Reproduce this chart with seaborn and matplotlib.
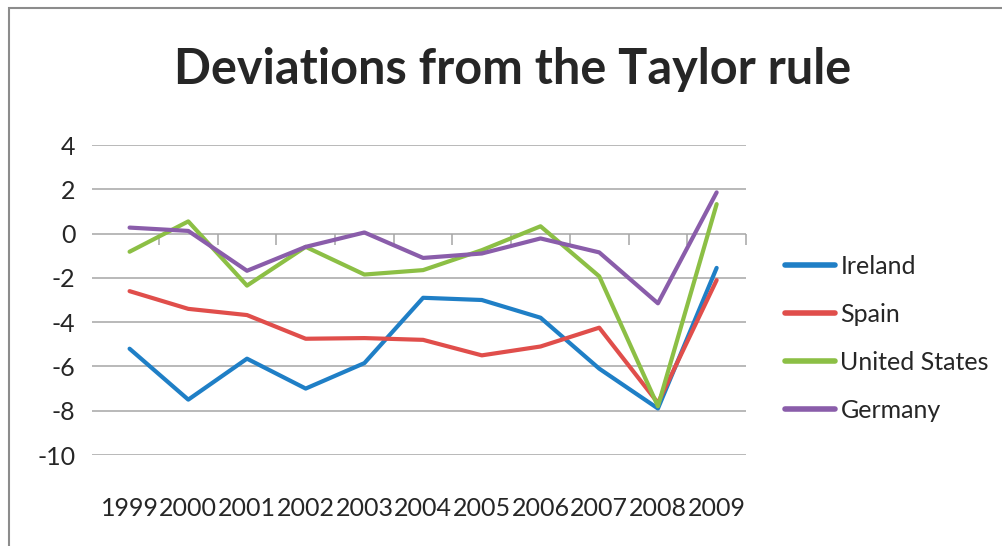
import seaborn as sns
import matplotlib.pyplot as plt
import matplotlib.patches as patches
import pandas as pd
import numpy as np

years = [str(y) for y in range(1999, 2010)]
ireland = [-5.2, -7.5, -5.65, -7.0, -5.85, -2.9, -3.0, -3.8, -6.1, -7.9, -1.55]
spain = [-2.6, -3.4, -3.68, -4.75, -4.72, -4.8, -5.5, -5.1, -4.25, -7.65, -2.1]
united_states = [-0.82, 0.55, -2.35, -0.6, -1.85, -1.65, -0.75, 0.33, -1.93, -7.8, 1.33]
germany = [0.27, 0.12, -1.68, -0.6, 0.05, -1.1, -0.9, -0.22, -0.85, -3.15, 1.86]

series_names = ['Ireland', 'Spain', 'United States', 'Germany']
series_colors = ['#1F7FC6', '#E04E4B', '#8CBF45', '#8A5DAA']

df = pd.DataFrame({
    'Year': years * 4,
    'Value': ireland + spain + united_states + germany,
    'Country': sum([[n] * len(years) for n in series_names], []),
})
df['Pos'] = df['Year'].map({y: i for i, y in enumerate(years)})

sns.set_style("white")
plt.rcParams['font.family'] = ['Lato', 'DejaVu Sans']
plt.rcParams['axes.unicode_minus'] = False

fig = plt.figure(figsize=(10.03, 5.46), dpi=100)
W, H = 1003, 546
ax = fig.add_axes([92 / W, (H - 455) / H, (746 - 92) / W, (455 - 145) / H])

# chart border (Excel style)
fig.patches.append(patches.Rectangle((9 / W, -0.1), 1.2, (H - 8) / H + 0.1,
                                     transform=fig.transFigure, fill=False,
                                     edgecolor='#8c8c8c', linewidth=1.5))

for y in np.arange(-10, 5, 2):
    ax.axhline(y, color='#a6a6a6', linewidth=1.1, zorder=0)

sns.lineplot(data=df, x='Pos', y='Value', hue='Country',
             palette=dict(zip(series_names, series_colors)),
             linewidth=3, ax=ax, sort=False)

ax.set_xlim(-0.64, 10.5)
ax.set_ylim(-10, 4)
ax.set_xticks(range(len(years)))
ax.set_xticklabels(years)
ax.set_yticks(np.arange(-10, 5, 2))
ax.tick_params(axis='x', length=0, pad=30, labelsize=18)
ax.tick_params(axis='y', length=0, pad=12, labelsize=18)
for s in ax.spines.values():
    s.set_visible(False)
ax.set_xlabel('')
ax.set_ylabel('')

# category axis at y = 0 with boundary tick marks pointing down
zero_frac = (0 - (-10)) / 14
sec = ax.secondary_xaxis(zero_frac)
sec.set_xticks(np.arange(0.5, 10.6, 1.0))
sec.set_xticklabels([])
sec.xaxis.set_ticks_position('bottom')
sec.tick_params(axis='x', direction='out', length=8, width=1.1, color='#a6a6a6')
for s in sec.spines.values():
    s.set_visible(False)

fig.text(513 / W, (H - 70) / H, 'Deviations from the Taylor rule',
         fontsize=35, fontweight='bold', ha='center', va='center')

leg = ax.legend(loc='upper left', bbox_to_anchor=(763 / W, (H - 232) / H),
                bbox_transform=fig.transFigure, frameon=False, fontsize=18,
                handlelength=2.0, handletextpad=0.2, labelspacing=1.0)
for line in leg.get_lines():
    line.set_linewidth(4)

fig.savefig('out.png', dpi=100)
